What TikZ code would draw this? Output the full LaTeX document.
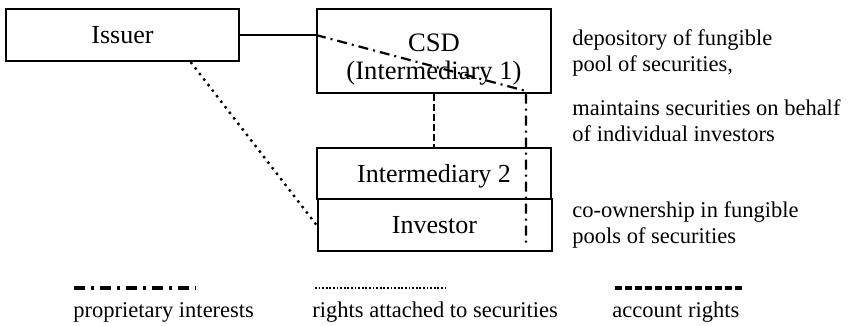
\documentclass[tikz,border=0pt]{standalone}
\usepackage{fontspec}
\setmainfont{Liberation Serif}
\usetikzlibrary{calc}

\begin{document}
\begin{tikzpicture}[x=0.5pt,y=-0.5pt,
  party/.style={draw, line width=1pt, inner sep=0pt, text depth=0pt, font=\fontsize{13}{14}\selectfont},
  note/.style={anchor=base west, align=left, inner sep=0pt, font=\fontsize{11.25}{13}\selectfont},
  account/.style={line width=1.2pt, dash pattern=on 3.5pt off 1.5pt},
  proprietary/.style={line width=1.1pt, dash pattern=on 5pt off 2.5pt on 1pt off 2.5pt},
  rights/.style={line width=1.2pt, dash pattern=on 1.2pt off 2.3pt}]
\useasboundingbox (0,0) rectangle (851,326);

\node [party, minimum width=116.5pt, minimum height=26pt] (issuer) at (122.5,35) {Issuer};
\node [party, minimum width=117pt, minimum height=42pt, align=center, font=\fontsize{13.3}{14}\selectfont] (csd) at (434,51) {\rule{0pt}{15pt}CSD\\(Intermediary 1)};
\node [party, minimum width=117pt, minimum height=25.5pt] (int2) at (434,173.5) {Intermediary 2};
\node [party, minimum width=117pt, minimum height=26pt] (investor) at (434.5,225) {Investor};

%\draw [dotted] (csd.south) -- (investor.north);
\coordinate (bend) at (526,91);
\coordinate (foot) at (526,245);
\draw [line width=1pt] (issuer.east) -- (issuer.east -| csd.west);
\draw [proprietary] (issuer.east -| csd.west) -- (bend) -- (foot);
\draw [account] (csd.south) -- (int2.north);
\draw [rights] ($(issuer.south west)!0.79!(issuer.south east)$) -- (investor.west);

\node [note] (depot) at (572,72) {depository of fungible\\pool of securities,};
\node [note] (keeps) at (572,141) {maintains securities on behalf\\of individual investors};
\node [note] (coown) at (572,243) {co-ownership in fungible\\pools of securities};

% legend
\node [note] (lprop) at (73,317) {proprietary interests};
\node [note] (lrights) at (312,317) {rights attached to securities};
\node [note] (lacct) at (612,317) {account rights};
\draw [line width=1.6pt, dash pattern=on 5.5pt off 3pt on 1.5pt off 3pt] (74,288) -- (196,288);
\draw [line width=1pt, dash pattern=on 0.9pt off 0.9pt] (315,288) -- (445,288);
\draw [line width=1.6pt, dash pattern=on 3.5pt off 1.5pt] (615,288) -- (745,288);

\end{tikzpicture}
\end{document}
